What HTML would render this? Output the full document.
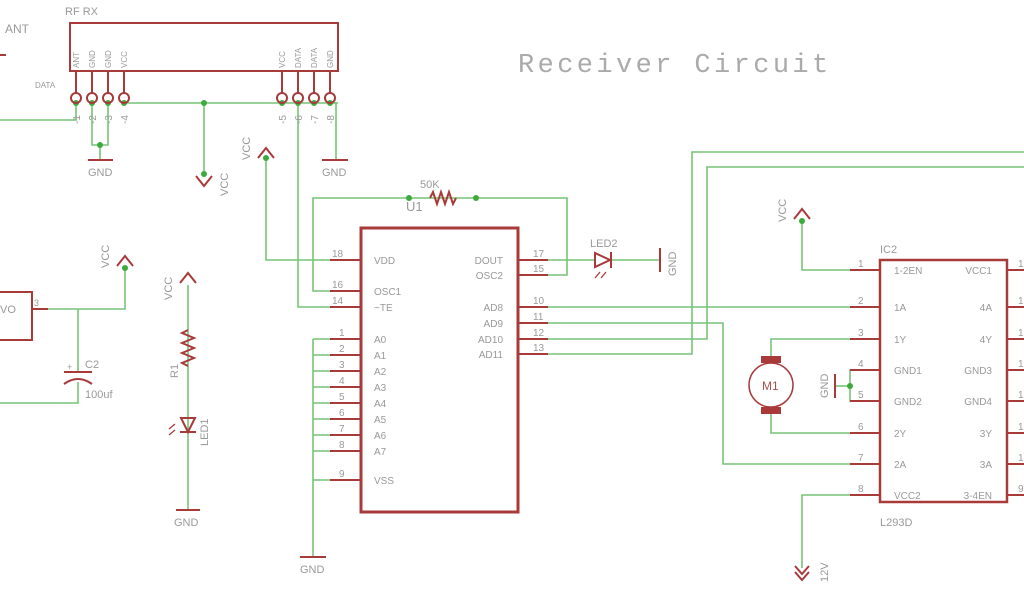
<!DOCTYPE html>
<html><head><style>body{margin:0;background:#fff}svg{display:block}</style></head><body>
<svg width="1024" height="600" viewBox="0 0 1024 600" xmlns="http://www.w3.org/2000/svg" font-family="Liberation Sans, sans-serif">
<g fill="none" stroke="#76c476" stroke-width="1.6">
<polyline points="0,120 76,120 76,103"/>
<line x1="124" y1="103" x2="338" y2="103"/>
<polyline points="92,103 92,145 108,145 108,103"/>
<line x1="100" y1="145" x2="100" y2="160"/>
<line x1="204" y1="103" x2="204" y2="174"/>
<polyline points="330,103 336,103 336,160"/>
<polyline points="298,103 298,307 361,307"/>
<polyline points="266,158 266,260 361,260"/>
<polyline points="361,291 313,291 313,198 567,198 567,275 530,275"/>
<line x1="518" y1="260" x2="595" y2="260"/>
<line x1="612" y1="260" x2="660" y2="260"/>
<polyline points="313,339 313,557"/>
<line x1="313" y1="339" x2="361" y2="339"/><line x1="313" y1="355" x2="361" y2="355"/>
<line x1="313" y1="371" x2="361" y2="371"/><line x1="313" y1="387" x2="361" y2="387"/>
<line x1="313" y1="403" x2="361" y2="403"/><line x1="313" y1="419" x2="361" y2="419"/>
<line x1="313" y1="435" x2="361" y2="435"/><line x1="313" y1="451" x2="361" y2="451"/>
<line x1="313" y1="480" x2="361" y2="480"/>
<line x1="518" y1="307" x2="880" y2="307"/>
<polyline points="518,323 723,323 723,464 880,464"/>
<polyline points="518,339 707,339 707,167 1024,167"/>
<polyline points="518,354 692,354 692,152 1024,152"/>
<polyline points="802,221 802,270 880,270"/>
<polyline points="771,361 771,339 880,339"/>
<polyline points="771,410 771,433 880,433"/>
<polyline points="880,370 850,370 850,401 880,401"/>
<line x1="850" y1="386" x2="835" y2="386"/>
<polyline points="880,495 802,495 802,568"/>
<polyline points="48,309 125,309 125,268"/>
<line x1="78" y1="309" x2="78" y2="372"/>
<polyline points="78,382 78,403 0,403"/>
<line x1="188" y1="285" x2="188" y2="510"/>
</g>
<g fill="#3cab3c">
<circle cx="76" cy="103" r="3"/><circle cx="92" cy="103" r="3"/><circle cx="108" cy="103" r="3"/><circle cx="124" cy="103" r="3"/>
<circle cx="282" cy="103" r="3"/><circle cx="298" cy="103" r="3"/><circle cx="314" cy="103" r="3"/><circle cx="330" cy="103" r="3"/>
<circle cx="100" cy="145" r="3"/><circle cx="204" cy="103" r="3"/><circle cx="204" cy="174" r="3"/><circle cx="266" cy="158" r="3"/>
<circle cx="409" cy="198" r="3"/><circle cx="476" cy="198" r="3"/><circle cx="802" cy="221" r="3"/><circle cx="850" cy="386" r="3"/><circle cx="125" cy="268" r="3"/>
</g>
<g fill="none" stroke="#a83a3a" stroke-width="2">
<rect x="70" y="23" width="268" height="48"/>
<path d="M76 71V93M92 71V93M108 71V93M124 71V93M282 71V93M298 71V93M314 71V93M330 71V93"/>
<circle cx="76" cy="98" r="5"/><circle cx="92" cy="98" r="5"/><circle cx="108" cy="98" r="5"/><circle cx="124" cy="98" r="5"/>
<circle cx="282" cy="98" r="5"/><circle cx="298" cy="98" r="5"/><circle cx="314" cy="98" r="5"/><circle cx="330" cy="98" r="5"/>
<path d="M0 55H6"/>
<path d="M88 160H113M322 160H348M300 557H326M176 510H200M660 248V272M835 374V398"/>
<path d="M196 176L204 186L212 176M258 158L266 148L274 158M794 219L802 209L810 219M117 266L125 256L133 266M180 283L188 273L196 283"/>
<path d="M795 566L802 574L809 566M795 572L802 580L809 572"/>
<rect x="361" y="228" width="157" height="284" stroke-width="3"/>
<rect x="880" y="260" width="127" height="242" stroke-width="2.5"/>
<path d="M330 260H361M330 291H361M330 307H361M330 339H361M330 355H361M330 371H361M330 387H361M330 403H361M330 419H361M330 435H361M330 451H361M330 480H361"/>
<path d="M518 260H548M518 275H548M518 307H548M518 323H548M518 339H548M518 354H548"/>
<path d="M850 270H880M850 307H880M850 339H880M850 370H880M850 401H880M850 433H880M850 464H880M850 495H880"/>
<path d="M1007 270H1024M1007 307H1024M1007 339H1024M1007 370H1024M1007 401H1024M1007 433H1024M1007 464H1024M1007 495H1024"/>
<path d="M430 198l3 -6l4 12l4 -12l4 12l4 -12l4 12l3 -6"/>
<path d="M188 330l-6 3l12 5l-12 5l12 5l-12 5l12 5l-12 5l6 3" />
<path d="M595 253V267L610 260Z M611 252V268"/>
<path d="M181 418H195L188 432Z M180 432H196"/>
<path d="M600 272l-5 6M606 272l-5 6M175 424l-6 5M175 430l-6 5" stroke-width="1.3"/>
<path d="M-10 292H32V340H-10M32 309H48"/>
<path d="M64 372H92M64 384Q78 374 92 384"/>
<circle cx="771" cy="385" r="22" stroke-width="1.5"/>
<rect x="762" y="357" width="18" height="5" fill="#a83a3a"/>
<rect x="762" y="408" width="18" height="5" fill="#a83a3a"/>
</g>
<g fill="#999" font-size="10">
<text x="65" y="15" font-size="11">RF RX</text>
<text x="5" y="33" font-size="12">ANT</text>
<text x="35" y="88" font-size="8">DATA</text>
<text x="518" y="72" font-size="27" letter-spacing="3.4" font-family="Liberation Mono, monospace" fill="#aaa">Receiver Circuit</text>
<g font-size="8">
<text transform="translate(79,68) rotate(-90)">ANT</text><text transform="translate(95,68) rotate(-90)">GND</text>
<text transform="translate(111,68) rotate(-90)">GND</text><text transform="translate(127,68) rotate(-90)">VCC</text>
<text transform="translate(285,68) rotate(-90)">VCC</text><text transform="translate(301,68) rotate(-90)">DATA</text>
<text transform="translate(317,68) rotate(-90)">DATA</text><text transform="translate(333,68) rotate(-90)">GND</text>
</g>
<text transform="translate(80,124) rotate(-90)">-1</text><text transform="translate(96,124) rotate(-90)">-2</text>
<text transform="translate(112,124) rotate(-90)">-3</text><text transform="translate(128,124) rotate(-90)">-4</text>
<text transform="translate(286,124) rotate(-90)">-5</text><text transform="translate(302,124) rotate(-90)">-6</text>
<text transform="translate(318,124) rotate(-90)">-7</text><text transform="translate(334,124) rotate(-90)">-8</text>
<text x="88" y="176" font-size="11">GND</text><text x="322" y="176" font-size="11">GND</text>
<text x="300" y="573" font-size="11">GND</text><text x="174" y="526" font-size="11">GND</text>
<text transform="translate(228,196) rotate(-90)" font-size="11">VCC</text>
<text transform="translate(250,160) rotate(-90)" font-size="11">VCC</text>
<text transform="translate(109,268) rotate(-90)" font-size="11">VCC</text>
<text transform="translate(172,300) rotate(-90)" font-size="11">VCC</text>
<text transform="translate(786,222) rotate(-90)" font-size="11">VCC</text>
<text transform="translate(676,276) rotate(-90)" font-size="11">GND</text>
<text transform="translate(828,398) rotate(-90)" font-size="11">GND</text>
<text transform="translate(828,582) rotate(-90)" font-size="11">12V</text>
<text transform="translate(178,378) rotate(-90)" font-size="11">R1</text>
<text transform="translate(208,446) rotate(-90)" font-size="11">LED1</text>
<text x="590" y="247" font-size="11">LED2</text>
<text x="420" y="188" font-size="11">50K</text>
<text x="406" y="211" font-size="13">U1</text>
<text x="85" y="368" font-size="11">C2</text><text x="67" y="370" font-size="9">+</text>
<text x="85" y="398" font-size="11">100uf</text>
<text x="0" y="313" font-size="11">VO</text><text x="34" y="306" font-size="9">3</text>
<text x="880" y="253" font-size="11">IC2</text><text x="880" y="526" font-size="11">L293D</text>
<text x="762" y="390" font-size="12" fill="#a85050">M1</text>
<g font-size="10">
<text x="374" y="264">VDD</text><text x="374" y="295">OSC1</text><text x="374" y="311">~TE</text>
<text x="374" y="343">A0</text><text x="374" y="359">A1</text><text x="374" y="375">A2</text><text x="374" y="391">A3</text>
<text x="374" y="407">A4</text><text x="374" y="423">A5</text><text x="374" y="439">A6</text><text x="374" y="455">A7</text><text x="374" y="484">VSS</text>
<g text-anchor="end"><text x="503" y="264">DOUT</text><text x="503" y="279">OSC2</text><text x="503" y="311">AD8</text>
<text x="503" y="327">AD9</text><text x="503" y="343">AD10</text><text x="503" y="358">AD11</text></g>
<text x="332" y="257">18</text><text x="332" y="288">16</text><text x="332" y="304">14</text>
<text x="339" y="336">1</text><text x="339" y="352">2</text><text x="339" y="368">3</text><text x="339" y="384">4</text>
<text x="339" y="400">5</text><text x="339" y="416">6</text><text x="339" y="432">7</text><text x="339" y="448">8</text><text x="339" y="477">9</text>
<text x="533" y="257">17</text><text x="533" y="272">15</text><text x="533" y="304">10</text><text x="533" y="320">11</text><text x="533" y="336">12</text><text x="533" y="351">13</text>
<text x="894" y="274">1-2EN</text><text x="894" y="311">1A</text><text x="894" y="343">1Y</text><text x="894" y="374">GND1</text>
<text x="894" y="405">GND2</text><text x="894" y="437">2Y</text><text x="894" y="468">2A</text><text x="894" y="499">VCC2</text>
<g text-anchor="end"><text x="992" y="274">VCC1</text><text x="992" y="311">4A</text><text x="992" y="343">4Y</text><text x="992" y="374">GND3</text>
<text x="992" y="405">GND4</text><text x="992" y="437">3Y</text><text x="992" y="468">3A</text><text x="992" y="499">3-4EN</text></g>
<text x="858" y="267">1</text><text x="858" y="304">2</text><text x="858" y="336">3</text><text x="858" y="367">4</text>
<text x="858" y="398">5</text><text x="858" y="430">6</text><text x="858" y="461">7</text><text x="858" y="492">8</text>
<text x="1018" y="267">1</text><text x="1018" y="304">1</text><text x="1018" y="336">1</text><text x="1018" y="367">1</text>
<text x="1018" y="398">1</text><text x="1018" y="430">1</text><text x="1018" y="461">1</text><text x="1018" y="492">9</text>
</g>
</g>
</svg>
</body></html>
